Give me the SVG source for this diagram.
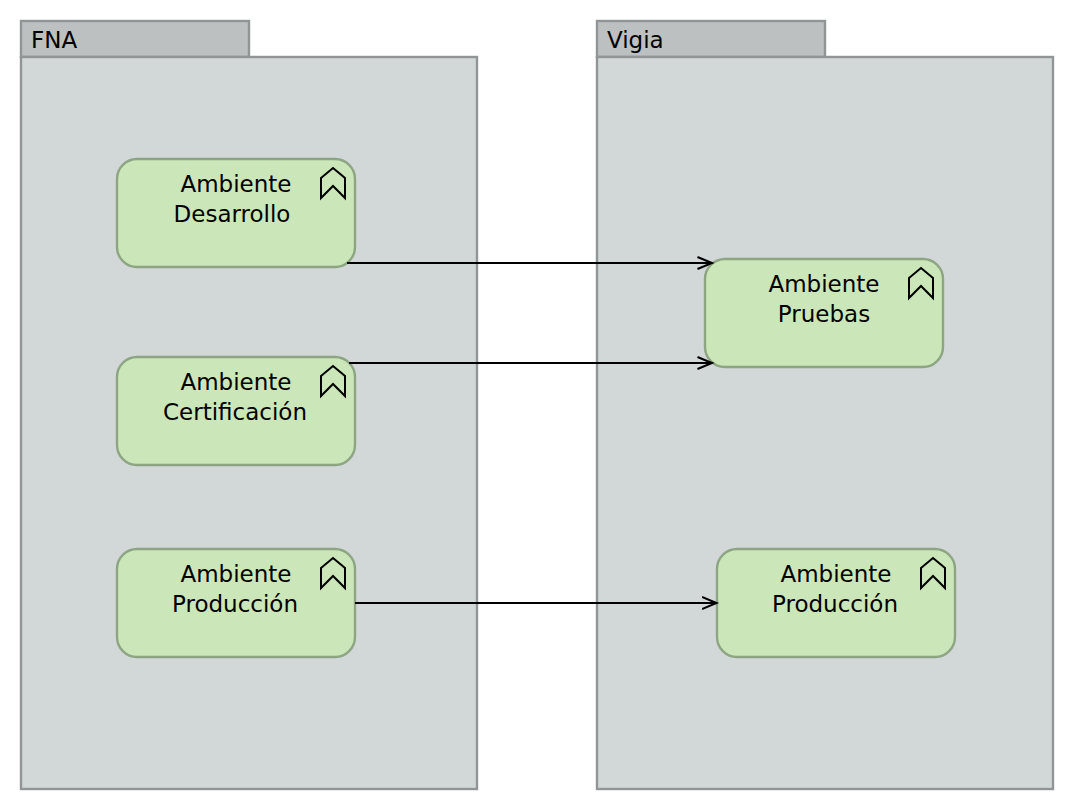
<svg xmlns="http://www.w3.org/2000/svg" width="1074" height="810" viewBox="0 0 1074 810">
<style>
.tab{fill:#bcc0c1;stroke:#929596;stroke-width:2.4}
.body{fill:#d2d7d7;stroke:#929596;stroke-width:2.4}
.box{fill:#cbe6b8;stroke:#8da583;stroke-width:2.4}
.ico{fill:none;stroke:#000;stroke-width:2}
.t{font-family:"DejaVu Sans","Liberation Sans",sans-serif;font-size:23px;fill:#000}
.m{text-anchor:middle}
.c{fill:none;stroke:#000;stroke-width:2}
</style>
<defs>
<marker id="arrow" markerUnits="userSpaceOnUse" markerWidth="18" markerHeight="16" refX="15" refY="8" orient="auto"><path d="M0.500 2L15 8L0.500 14" fill="none" stroke="#000" stroke-width="2"/></marker>
<path id="chev" d="M321 178L333 168L345 178V198L333 186L321 198Z"/>
</defs>
<g id="group-fna"><rect class="tab" x="21" y="21" width="228" height="36"/><rect class="body" x="21" y="57" width="456" height="732"/><text class="t" x="31" y="48">FNA</text></g>
<g id="group-vigia"><rect class="tab" x="597" y="21" width="228" height="36"/><rect class="body" x="597" y="57" width="456" height="732"/><text class="t" x="607" y="48">Vigia</text></g>
<g id="node-desarrollo"><rect class="box" x="117" y="159" width="238" height="108" rx="20"/><use href="#chev" class="ico"/><text class="t m" x="236" y="191.500">Ambiente</text><text class="t m" x="232" y="221.500">Desarrollo</text></g>
<g id="node-certificacion"><rect class="box" x="117" y="357" width="238" height="108" rx="20"/><use href="#chev" class="ico" y="198"/><text class="t m" x="236" y="389.500">Ambiente</text><text class="t m" x="235" y="419.500">Certificación</text></g>
<g id="node-produccion-fna"><rect class="box" x="117" y="549" width="238" height="108" rx="20"/><use href="#chev" class="ico" y="390"/><text class="t m" x="236" y="581.500">Ambiente</text><text class="t m" x="235" y="611.500">Producción</text></g>
<g id="node-pruebas"><rect class="box" x="705" y="259" width="238" height="108" rx="20"/><use href="#chev" class="ico" x="588" y="100"/><text class="t m" x="824" y="291.500">Ambiente</text><text class="t m" x="824" y="321.500">Pruebas</text></g>
<g id="node-produccion-vigia"><rect class="box" x="717" y="549" width="238" height="108" rx="20"/><use href="#chev" class="ico" x="600" y="390"/><text class="t m" x="836" y="581.500">Ambiente</text><text class="t m" x="835" y="611.500">Producción</text></g>
<g id="connectors">
<path class="c" d="M347 263H712" marker-end="url(#arrow)"/>
<path class="c" d="M349 363H712" marker-end="url(#arrow)"/>
<path class="c" d="M355 603H716.500" marker-end="url(#arrow)"/>
</g>
</svg>
